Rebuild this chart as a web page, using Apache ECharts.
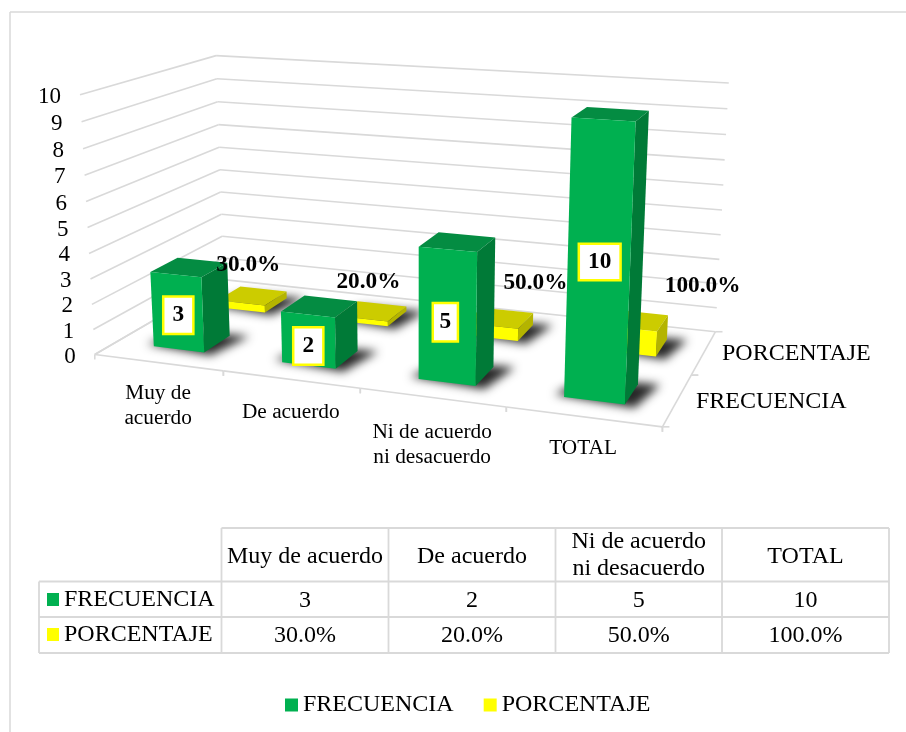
<!DOCTYPE html>
<html><head><meta charset="utf-8">
<style>html,body{margin:0;padding:0;background:#fff}#c{width:906px;height:732px}</style>
<script src="https://cdn.jsdelivr.net/npm/echarts@6/dist/echarts.min.js"></script>
</head><body><div id="c"></div>
<script>
// ---- data ----
const categories = ['Muy de acuerdo', 'De acuerdo', 'Ni de acuerdo ni desacuerdo', 'TOTAL'];
const categoryLines = ['Muy de\nacuerdo', 'De acuerdo', 'Ni de acuerdo\nni desacuerdo', 'TOTAL'];
const frecuencia = [3, 2, 5, 10];
const porcentaje = [0.3, 0.2, 0.5, 1.0];
const seriesNames = ['FRECUENCIA', 'PORCENTAJE'];
const valueTicks = [0,1,2,3,4,5,6,7,8,9,10];

// ---- style & layout ----
const FONT = '"Liberation Serif","Times New Roman",serif';
const GREEN = {front:'#00B050', top:'#048C42', side:'#007A37'};
const YELLOW = {front:'#FFFF00', top:'#CCCC00', side:'#B4B400'};
const GRID = '#D9D9D9';
const NCAT = categories.length;
const BAR_W = 0.4, SLOT = {FRECUENCIA:[0.15,0.35], PORCENTAJE:[0.65,0.85]};
const hiddenGrid = {left:100, top:100, width:400, height:200};
// camera calibration: [u, depth, height] -> [px, py]
const cameraAnchors = [
 [[0,0,0],[95,355]], [[4,0,0],[663,427]], [[4,1,0],[716,332]], [[0,1,0],[224,280]],
 [[0,0,10],[80,95]], [[4,1,10],[728,83]], [[0,1,10],[216,55]],
 [[3.3,.15,10],[572,118]], [[3.7,.15,10],[636,121]], [[3.7,.35,10],[649,111]], [[3.3,.35,10],[587,107]],
 [[3.3,.15,0],[563,397]], [[3.7,.15,0],[625,404]],
 [[1.3,.15,0],[282,362]], [[1.7,.15,0],[335,368]]
];
const frecLabelOffset = [[1,3],[0,6],[-2,5.5],[1,-1.5]];
const frecLabelPad = [[6,8],[6,8],[6.5,5.5],[5.5,8]];
const pctLabelPos = [[-4,-31],[-4,-29],[36,-35],[68,-34]];
const catLabelOffset = [[0,43],[0,33],[0,47],[0,32]];
const SHADOW_SHIFT = 3000;

// ---- projection fit (least squares) ----
function fitCamera(a){
  const A=[],b=[];
  a.forEach(([w,s])=>{
    const [X,Y,Z]=w, x=s[0]/1000, y=s[1]/1000;
    A.push([X,Y,Z,1,0,0,0,0,-x*X,-x*Y,-x*Z]); b.push(x);
    A.push([0,0,0,0,X,Y,Z,1,-y*X,-y*Y,-y*Z]); b.push(y);
  });
  const n=11, M=[];
  for(let i=0;i<n;i++){M.push(new Array(n+1).fill(0));}
  A.forEach((r,k)=>{for(let i=0;i<n;i++){for(let j=0;j<n;j++)M[i][j]+=r[i]*r[j];M[i][n]+=r[i]*b[k];}});
  for(let c=0;c<n;c++){
    let p=c;for(let r=c+1;r<n;r++)if(Math.abs(M[r][c])>Math.abs(M[p][c]))p=r;
    [M[c],M[p]]=[M[p],M[c]];
    for(let r=0;r<n;r++){if(r===c)continue;const f=M[r][c]/M[c][c];for(let j=c;j<=n;j++)M[r][j]-=f*M[c][j];}
  }
  return M.map((r,i)=>r[n]/r[i]);
}
const P = fitCamera(cameraAnchors);
function proj(u,d,h){
  const w=P[8]*u+P[9]*d+P[10]*h+1;
  return [1000*(P[0]*u+P[1]*d+P[2]*h+P[3])/w, 1000*(P[4]*u+P[5]*d+P[6]*h+P[7])/w];
}
// library scale -> model coordinates
function toModel(api,i,v){
  const c=api.coord([i,v]);
  return {u:(c[0]-hiddenGrid.left)/hiddenGrid.width*NCAT, h:(hiddenGrid.top+hiddenGrid.height-c[1])/hiddenGrid.height*10};
}
const poly=(pts,fill,extra)=>Object.assign({type:'polygon',shape:{points:pts},style:Object.assign({fill},extra||{})});

function barRenderer(name,col){
  return (params,api)=>{
    const m=toModel(api,api.value(0),api.value(1));
    const u0=m.u-BAR_W/2,u1=m.u+BAR_W/2,[d0,d1]=SLOT[name],h=m.h;
    const p=(u,d,z)=>proj(u,d,z);
    // soft floor shadow: the source shape sits off-canvas, only its blurred shadow lands on the floor
    const s=(u,d)=>{const q=p(u,d,0);return [q[0]-SHADOW_SHIFT,q[1]];};
    return {type:'group',children:[
      Object.assign(poly([s(u0-.07,d0+.015),s(u1+.07,d0-.02),s(u1+.14,d1+.02),s(u0+.04,d1)],'#444',
        {shadowBlur:10,shadowColor:'rgba(40,40,40,1)',shadowOffsetX:SHADOW_SHIFT,shadowOffsetY:0}),{z2:-1}),
      poly([p(u0,d1,h),p(u1,d1,h),p(u1,d0,h),p(u0,d0,h)],col.top),
      poly([p(u1,d0,0),p(u1,d1,0),p(u1,d1,h),p(u1,d0,h)],col.side),
      poly([p(u0,d0,0),p(u1,d0,0),p(u1,d0,h),p(u0,d0,h)],col.front)
    ]};
  };
}
const line=(a,b,w)=>({type:'line',shape:{x1:a[0],y1:a[1],x2:b[0],y2:b[1]},style:{stroke:GRID,lineWidth:w||1.6}});

const option={
  animation:false,
  backgroundColor:'#fff',
  textStyle:{fontFamily:FONT},
  grid:hiddenGrid,
  xAxis:{type:'category',data:categories,show:false},
  yAxis:{type:'value',min:0,max:10,interval:1,show:false},
  legend:{data:seriesNames,left:280,top:688,itemWidth:13,itemHeight:13,itemGap:30,icon:'rect',
    textStyle:{fontFamily:FONT,fontSize:24,color:'#000'}},
  series:[
    {name:'ejes-valor',type:'custom',silent:true,clip:false,z:1,data:valueTicks.map(v=>[0,v]),encode:{x:0,y:1},
      renderItem:(pr,api)=>{
        const h=toModel(api,0,api.value(1)).h, v=api.value(1);
        const a=proj(0,0,h),b=proj(0,1,h),c=proj(NCAT,1,h);
        return {type:'group',children:[line(a,b),line(b,c),
          {type:'text',x:a[0]-19,y:a[1]+2,style:{text:String(v),font:'23px '+FONT,fill:'#000',align:'right',verticalAlign:'middle'}}]};
      }},
    {name:'ejes-categoria',type:'custom',silent:true,clip:false,z:1,data:categories.map((c,i)=>[i,0]),encode:{x:0,y:1},
      renderItem:(pr,api)=>{
        const i=api.value(0),uc=toModel(api,i,0).u,ul=uc-.5,ur=uc+.5;
        const a=proj(ul,0,0),b=proj(ur,0,0),t=proj(uc,0,0),o=catLabelOffset[i];
        const tick=(u)=>{const q=proj(u,0,0);return line(q,[q[0],q[1]+5]);};
        const ch=[line(a,b),tick(ul),tick(ur),
          {type:'text',x:t[0]+o[0],y:t[1]+o[1],style:{text:categoryLines[i],font:'21.3px '+FONT,fill:'#000',align:'center',verticalAlign:'middle',lineHeight:25}}];
        return {type:'group',children:ch};
      }},
    {name:'ejes-profundidad',type:'custom',silent:true,clip:false,z:1,data:seriesNames.map((s,i)=>[3,0,i]),encode:{x:0,y:1},
      renderItem:(pr,api)=>{
        const j=api.value(2),uc=toModel(api,3,0).u+.5,d0=j/2,d1=(j+1)/2;
        const a=proj(uc,d0,0),b=proj(uc,d1,0);
        const off=j===0?[696,402]:[722,354];
        const ch=[line(a,b),line(a,[a[0]+7,a[1]]),line(b,[b[0]+7,b[1]])];
        if(j===0) ch.push(line(a,[a[0],a[1]+5]));
        ch.push({type:'text',x:off[0],y:off[1],style:{text:seriesNames[j],font:'24px '+FONT,fill:'#000',align:'left',verticalAlign:'middle'}});
        return {type:'group',children:ch};
      }},
    {name:'ejes-suelo',type:'custom',silent:true,clip:false,z:1,data:[[0,0]],encode:{x:0,y:1},
      renderItem:(pr,api)=>line(proj(0,0,0),proj(0,1,0))},
    {name:'PORCENTAJE',type:'custom',clip:false,z:2,itemStyle:{color:YELLOW.front},
      data:porcentaje.map((v,i)=>[i,v]),encode:{x:0,y:1},renderItem:barRenderer('PORCENTAJE',YELLOW)},
    {name:'FRECUENCIA',type:'custom',clip:false,z:3,itemStyle:{color:GREEN.front},
      data:frecuencia.map((v,i)=>[i,v]),encode:{x:0,y:1},renderItem:barRenderer('FRECUENCIA',GREEN)},
    {name:'etiquetas-porcentaje',type:'custom',silent:true,clip:false,z:5,data:porcentaje.map((v,i)=>[i,v]),encode:{x:0,y:1},
      renderItem:(pr,api)=>{
        const i=api.value(0),v=api.value(1),m=toModel(api,i,v);
        const q=proj(m.u,.75,m.h),o=pctLabelPos[i];
        return {type:'text',x:q[0]+o[0],y:q[1]+o[1],style:{text:(v*100).toFixed(1)+'%',font:'bold 23.3px '+FONT,fill:'#000',align:'center',verticalAlign:'middle'}};
      }},
    {name:'etiquetas-frecuencia',type:'custom',silent:true,clip:false,z:5,data:frecuencia.map((v,i)=>[i,v]),encode:{x:0,y:1},
      renderItem:(pr,api)=>{
        const i=api.value(0),v=api.value(1),m=toModel(api,i,v);
        const q=proj(m.u,.15,m.h/2),o=frecLabelOffset[i];
        return {type:'text',x:q[0]+o[0],y:q[1]+o[1],style:{text:String(v),font:'bold 23.3px '+FONT,fill:'#000',align:'center',verticalAlign:'middle',
          backgroundColor:'#fff',borderColor:'#FFFF00',borderWidth:2.5,padding:frecLabelPad[i]}};
      }}
  ],
  graphic:[]
};

// ---- frame + data table ----
const colX=[39,221.5,388.5,555.5,722,889], rowY=[528,581.5,617,653];
const gfx=[];
const gl=(x1,y1,x2,y2,w)=>gfx.push({type:'line',silent:true,z:0,shape:{x1,y1,x2,y2},style:{stroke:GRID,lineWidth:w||1.8}});
const gt=(x,y,text,align)=>gfx.push({type:'text',silent:true,z:1,x,y,style:{text,font:'24px '+FONT,fill:'#000',align:align||'center',verticalAlign:'middle',lineHeight:27}});
gl(10,12,906,12,1.5); gl(10,12,10,732,1.5);
gl(colX[1],rowY[0],colX[5],rowY[0]);
for(let r=1;r<4;r++) gl(colX[0],rowY[r],colX[5],rowY[r]);
gl(colX[0],rowY[1],colX[0],rowY[3]);
for(let c=1;c<6;c++) gl(colX[c],rowY[0],colX[c],rowY[3]);
const mid=(a,i)=>(a[i]+a[i+1])/2;
const tableHeads=['Muy de acuerdo','De acuerdo','Ni de acuerdo\nni desacuerdo','TOTAL'];
tableHeads.forEach((h,i)=>gt(mid(colX,i+1),mid(rowY,0)+(h.includes('\n')?0.5:1.5),h));
frecuencia.forEach((v,i)=>gt(mid(colX,i+1),mid(rowY,1)+1,String(v)));
porcentaje.forEach((v,i)=>gt(mid(colX,i+1),mid(rowY,2)+1,(v*100).toFixed(1)+'%'));
[GREEN.front,YELLOW.front].forEach((c,j)=>{
  gfx.push({type:'rect',silent:true,shape:{x:47,y:593+j*35,width:12,height:13},style:{fill:c}});
  gt(64,mid(rowY,j+1),seriesNames[j],'left');
});
option.graphic=gfx;

const chart=echarts.init(document.getElementById('c'),null,{renderer:'canvas'});
chart.setOption(option);
</script></body></html>
